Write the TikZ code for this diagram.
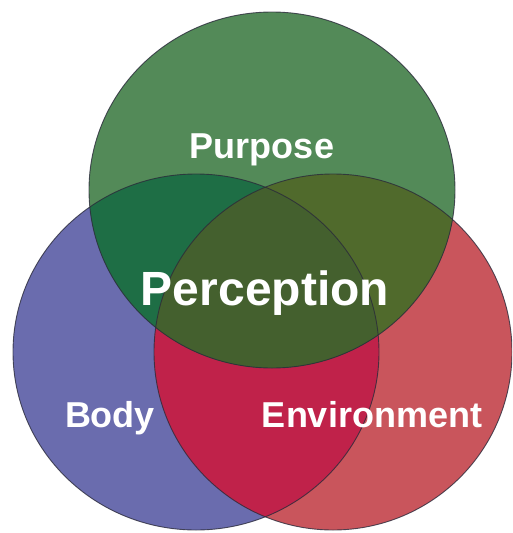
\documentclass[tikz,border=0pt]{standalone}
\usepackage{fontspec}
\setmainfont{Liberation Sans}
\definecolor{cgreen}{HTML}{538A58}
\definecolor{cblue}{HTML}{6A6CAE}
\definecolor{cred}{HTML}{C9555C}
\definecolor{cbg}{HTML}{1E6E45}
\definecolor{crg}{HTML}{506A2C}
\definecolor{call}{HTML}{44602E}
\definecolor{cbr}{HTML}{C0224A}
\definecolor{cedge}{HTML}{2A2A3A}
\tikzset{
  lbl/.style={text=white, font=\bfseries, inner sep=0pt, anchor=base},
  edge/.style={draw=cedge, line width=0.9pt, draw opacity=0.8}
}
\begin{document}
\begin{tikzpicture}[x=1pt,y=-1pt]
\useasboundingbox (0,0) rectangle (512,533);
\clip (0,0) rectangle (512,533);
\def\blueshape{(196,352) ellipse [x radius=183, y radius=178]}
\def\redshape{(333,352) ellipse [x radius=179, y radius=178]}
\def\greenshape{(272,190) ellipse [x radius=183, y radius=178]}
% base circles
\fill[cblue] \blueshape;
\fill[cred] \redshape;
\begin{scope}
  \clip \blueshape;
  \fill[cbr] \redshape;
\end{scope}
\fill[cgreen] \greenshape;
\begin{scope}
  \clip \greenshape;
  \fill[cbg] \blueshape;
  \fill[crg] \redshape;
  \clip \blueshape;
  \fill[call] \redshape;
\end{scope}
% outlines
\draw[edge] \blueshape;
\draw[edge] \redshape;
\draw[edge] \greenshape;
% labels
\node[lbl, font=\bfseries\fontsize{36}{40}\selectfont] (purpose) at (262,158) {Purpose};
\node[lbl, font=\bfseries\fontsize{48}{52}\selectfont] (perception) at (265,305) {Perception};
\node[lbl, font=\bfseries\fontsize{36}{40}\selectfont] (body) at (110,427) {Body};
\node[lbl, font=\bfseries\fontsize{36}{40}\selectfont] (environment) at (372,427) {Environment};
\end{tikzpicture}
\end{document}
